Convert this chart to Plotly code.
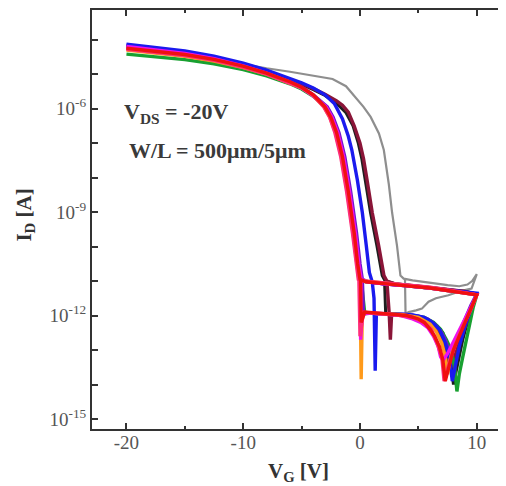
import plotly.graph_objects as go

# ---- data: gate voltage sweeps (V) and log10 of drain current (A) ----
gray_vg = [-20,-17.5,-15,-12.5,-10,-8,-6,-4,-2.35,-1.2,-0.37,0.3,0.91,1.62,2.04,2.32,2.47,2.75,3.17,3.46,3.74,4.5,5.5,6.5,7.5,8.5,9.2,9.6,10,
           9.55,8.5,7.57,6.5,5.87,5.3,4.8,4.17,3.9,3.85]
gray_log = [-4.25,-4.33,-4.43,-4.56,-4.72,-4.83,-4.93,-5.04,-5.14,-5.35,-5.67,-5.95,-6.24,-6.72,-7.2,-7.77,-8.2,-9.02,-9.98,-10.84,-10.93,-10.98,-11.03,-11.08,-11.12,-11.15,-11.1,-11.0,-10.8,
            -11.22,-11.3,-11.41,-11.5,-11.6,-11.8,-11.85,-11.9,-11.95,-10.93]

black_vg = [-20,-17.5,-15,-12.5,-10,-8,-6,-5,-4,-3,-2,-1.2,-0.6,-0.15,0.15,0.45,0.9,1.45,1.9,2.15,3,5,7,9,10,
            9.6,9.2,8.8,8.4,8.0,7.8,7.5,7.1,6.6,6,5,4,3,2.2,2.1]
black_log = [-4.24,-4.32,-4.42,-4.57,-4.75,-4.95,-5.17,-5.3,-5.45,-5.62,-5.85,-6.12,-6.5,-7.0,-7.45,-8.06,-9.02,-9.98,-10.84,-11.0,-11.08,-11.15,-11.22,-11.3,-11.38,
             -11.8,-12.2,-12.7,-13.3,-14.0,-13.4,-12.9,-12.5,-12.3,-12.15,-12.05,-12.0,-11.97,-11.97,-11.0]

maroon_vg = [-20,-17.5,-15,-12.5,-10,-8,-6,-5,-4,-3,-2,-1.5,-1,-0.5,0,0.3,0.6,1.05,1.6,2.05,2.3,3,5,7,9,10,
             9.6,9.2,8.8,8.4,8.0,7.7,7.4,7.0,6.5,6.0,5.0,4.0,3.0,2.7,2.6,2.5,2.3]
maroon_log = [-4.2,-4.28,-4.38,-4.53,-4.72,-4.92,-5.15,-5.28,-5.42,-5.58,-5.78,-5.9,-6.1,-6.5,-7.0,-7.45,-8.06,-9.02,-9.98,-10.84,-11.0,-11.08,-11.15,-11.22,-11.3,-11.38,
              -11.75,-12.1,-12.5,-12.9,-13.3,-13.6,-13.1,-12.7,-12.4,-12.2,-12.05,-12.0,-11.97,-12.0,-12.7,-11.95,-11.0]

green_vg = [-20,-17.5,-15,-12.5,-10,-8,-6,-5,-4,-2.95,-2.45,-1.95,-1.45,-0.95,-0.45,-0.15,0.05,0.5,2,4,6,8,10,
            9.7,9.4,9.1,8.8,8.5,8.3,8.1,7.8,7.4,6.9,6.3,5.5,4.5,3,1.5,0.4,0.1]
green_log = [-4.42,-4.49,-4.58,-4.7,-4.87,-5.05,-5.28,-5.43,-5.64,-5.95,-6.25,-6.7,-7.4,-8.4,-9.6,-10.5,-10.95,-11.02,-11.08,-11.14,-11.2,-11.3,-11.4,
             -11.75,-12.2,-12.7,-13.2,-13.7,-14.2,-13.5,-13.0,-12.7,-12.4,-12.2,-12.05,-12.0,-11.96,-11.95,-11.92,-10.95]

purple_vg = [-20,-17.5,-15,-12.5,-10,-8,-6,-5,-4,-2.8,-2.3,-1.8,-1.3,-0.8,-0.3,0.0,0.2,0.7,2,4,6,8,10,
             9.5,9,8.5,8.1,7.8,7.6,7.3,6.9,6.4,5.8,5,4,2.5,1,0.3,0.2]
purple_log = [-4.16,-4.25,-4.36,-4.51,-4.72,-4.93,-5.2,-5.37,-5.6,-5.95,-6.25,-6.7,-7.4,-8.4,-9.6,-10.5,-10.95,-11.02,-11.08,-11.14,-11.2,-11.3,-11.38,
              -11.7,-12.1,-12.5,-12.9,-13.2,-13.0,-12.7,-12.45,-12.25,-12.1,-12.02,-11.97,-11.95,-11.93,-11.95,-10.95]

blue_vg = [-20,-17.5,-15,-12.5,-10,-8,-6,-5,-4,-3,-2.2,-1.5,-1,-0.7,-0.23,0.2,0.54,0.8,1.05,2,4,6,8,10,
           9.5,9,8.5,8.1,7.9,7.7,7.3,6.8,6.2,5.5,4.5,3,2,1.4,1.3,1.2,1.05]
blue_log = [-4.13,-4.22,-4.33,-4.48,-4.68,-4.88,-5.12,-5.25,-5.4,-5.6,-5.85,-6.3,-6.8,-7.2,-8.06,-9.02,-9.98,-10.75,-11.03,-11.08,-11.13,-11.2,-11.28,-11.35,
            -11.8,-12.3,-12.9,-13.5,-13.9,-13.3,-12.8,-12.4,-12.2,-12.05,-11.98,-11.95,-11.95,-11.95,-13.6,-11.5,-11.03]

orange_vg = [-20,-17.5,-15,-12.5,-10,-8,-6,-5,-4,-3.1,-2.6,-2.1,-1.6,-1.1,-0.6,-0.3,-0.1,0.4,2,4,6,8,10,
             9.5,9,8.5,8.0,7.7,7.5,7.3,7.0,6.5,6.0,5.0,3.5,2,0.8,0.2,0.1,0.0]
orange_log = [-4.3,-4.38,-4.48,-4.62,-4.81,-5.0,-5.25,-5.4,-5.62,-5.95,-6.25,-6.7,-7.4,-8.4,-9.6,-10.5,-10.95,-11.0,-11.06,-11.12,-11.2,-11.3,-11.4,
              -11.8,-12.15,-12.5,-12.9,-13.3,-13.7,-13.2,-12.8,-12.45,-12.25,-12.05,-11.97,-11.95,-11.93,-11.95,-13.85,-10.95]

magenta_vg = [-20,-17.5,-15,-12.5,-10,-8,-6,-5,-4,-2.9,-2.4,-1.9,-1.4,-0.9,-0.4,-0.1,0.1,0.6,2,4,6,8,10,
              9.5,9,8.5,8,7.5,7.1,6.9,6.7,6.3,5.8,5.2,4.5,3.5,2,0.8,0.2,0.05,0.1]
magenta_log = [-4.2,-4.29,-4.4,-4.55,-4.76,-4.97,-5.23,-5.4,-5.63,-5.95,-6.25,-6.7,-7.4,-8.4,-9.6,-10.5,-10.95,-11.02,-11.08,-11.14,-11.2,-11.3,-11.4,
               -11.75,-12.1,-12.45,-12.8,-13.1,-13.3,-13.2,-12.9,-12.6,-12.35,-12.2,-12.1,-12.0,-11.95,-11.93,-11.95,-12.7,-10.95]

pink_vg = [-20,-17.5,-15,-12.5,-10,-8,-6,-5,-4,-3.1,-2.6,-2.15,-1.65,-1.15,-0.65,-0.35,-0.15,0.3,2,4,6,8,10,
           9.4,8.8,8.2,7.7,7.2,7.0,6.6,6.1,5.5,4.5,3,1.5,0.3,0.0,-0.1]
pink_log = [-4.28,-4.36,-4.46,-4.6,-4.8,-5.0,-5.25,-5.4,-5.62,-5.95,-6.25,-6.7,-7.4,-8.4,-9.6,-10.5,-10.95,-11.0,-11.05,-11.1,-11.18,-11.28,-11.4,
            -11.9,-12.3,-12.8,-13.3,-13.9,-13.2,-12.8,-12.4,-12.2,-12.05,-11.98,-11.95,-11.9,-12.6,-10.9]

red_vg = [-20,-17.5,-15,-12.5,-10,-8,-6,-5,-4,-3,-2.5,-2,-1.5,-1,-0.5,-0.2,0,0.5,2,4,6,8,10,
          9.5,9,8.5,8,7.6,7.3,7.1,6.8,6.4,6,5.5,5,4,3,2,1,0.4,0.1,0.05]
red_log = [-4.25,-4.33,-4.43,-4.57,-4.77,-4.97,-5.22,-5.38,-5.6,-5.95,-6.25,-6.7,-7.4,-8.4,-9.6,-10.5,-10.95,-11.02,-11.08,-11.14,-11.2,-11.3,-11.4,
           -11.8,-12.2,-12.6,-13.0,-13.5,-13.9,-13.3,-12.9,-12.6,-12.4,-12.2,-12.1,-12.0,-11.97,-11.95,-11.93,-11.9,-12.2,-10.95]

x_tick_vals = [-20, -10, 0, 10]
x_tick_text = ["-20", "-10", "0", "10"]
x_minor_vals = [-15, -5, 5]
y_label_decades = [-15, -12, -9, -6]
y_other_decades = [-14, -13, -11, -10, -8, -7, -5, -4]

series = [
    (gray_vg, gray_log, "#8e8e8e", 2.2),
    (black_vg, black_log, "#1e1e1e", 3),
    (maroon_vg, maroon_log, "#8a1538", 3.4),
    (green_vg, green_log, "#18a030", 3.4),
    (purple_vg, purple_log, "#7018c8", 3.4),
    (blue_vg, blue_log, "#1a1aee", 3.4),
    (orange_vg, orange_log, "#ff9a1a", 3.4),
    (magenta_vg, magenta_log, "#ee10ee", 3.4),
    (pink_vg, pink_log, "#ff2d7a", 3.4),
    (red_vg, red_log, "#f01010", 3.4),
]

fig = go.Figure()
for vg, lg, col, w in series:
    fig.add_trace(go.Scatter(x=vg, y=[10 ** v for v in lg], mode="lines",
                             line=dict(color=col, width=w), showlegend=False))

serif = "Liberation Serif, Times New Roman, serif"
axcol = "#333333"

# page body has an 8px margin, so the figure is sized to fit the window from (8, 8)
fig.update_layout(
    width=498, height=478,
    margin=dict(l=84, r=0, t=1, b=57),
    paper_bgcolor="white", plot_bgcolor="white",
    showlegend=False,
    xaxis=dict(range=[-22.95, 12.33], tickvals=x_tick_vals, ticktext=x_tick_text,
               ticks="inside", ticklen=6, tickwidth=1.5, tickcolor=axcol,
               showline=True, linewidth=2, linecolor=axcol, mirror="allticks",
               showgrid=False, zeroline=False, ticklabelstandoff=-5,
               minor=dict(tickvals=x_minor_vals, ticks="inside", ticklen=3,
                          tickwidth=1.5, tickcolor=axcol, showgrid=False),
               tickfont=dict(family=serif, size=19, color="#555555")),
    yaxis=dict(type="log", range=[-15.29, -3.14],
               tickvals=[10.0 ** d for d in y_label_decades],
               ticktext=["10<sup>%d</sup>" % d for d in y_label_decades],
               ticks="inside", ticklen=6, tickwidth=1.5, tickcolor=axcol,
               showline=True, linewidth=2, linecolor=axcol, mirror="allticks",
               showgrid=False, zeroline=False,
               minor=dict(tickvals=[10.0 ** d for d in y_other_decades], ticks="inside",
                          ticklen=6, tickwidth=1.5, tickcolor=axcol, showgrid=False),
               tickfont=dict(family=serif, size=19, color="#555555")),
    annotations=[
        dict(text="<b>V<sub>G</sub> [V]</b>", xref="paper", yref="paper",
             x=0.5, y=-0.103, xanchor="center", yanchor="middle", showarrow=False,
             font=dict(family=serif, size=21, color="#333333")),
        dict(text="<b>I<sub>D</sub> [A]</b>", xref="paper", yref="paper",
             x=-0.162, y=0.51, xanchor="center", yanchor="middle", showarrow=False,
             textangle=-90, font=dict(family=serif, size=21, color="#333333")),
        dict(text="<b>V<sub>DS</sub> = -20V</b>", xref="paper", yref="paper",
             x=0.0725, y=0.753, xanchor="left", yanchor="middle", showarrow=False,
             font=dict(family=serif, size=22, color="#3a3a3a")),
        dict(text="<b>W/L = 500μm/5μm</b>", xref="paper", yref="paper",
             x=0.0845, y=0.665, xanchor="left", yanchor="middle", showarrow=False,
             font=dict(family=serif, size=22, color="#3a3a3a")),
    ],
)

fig.write_html("out.html")
